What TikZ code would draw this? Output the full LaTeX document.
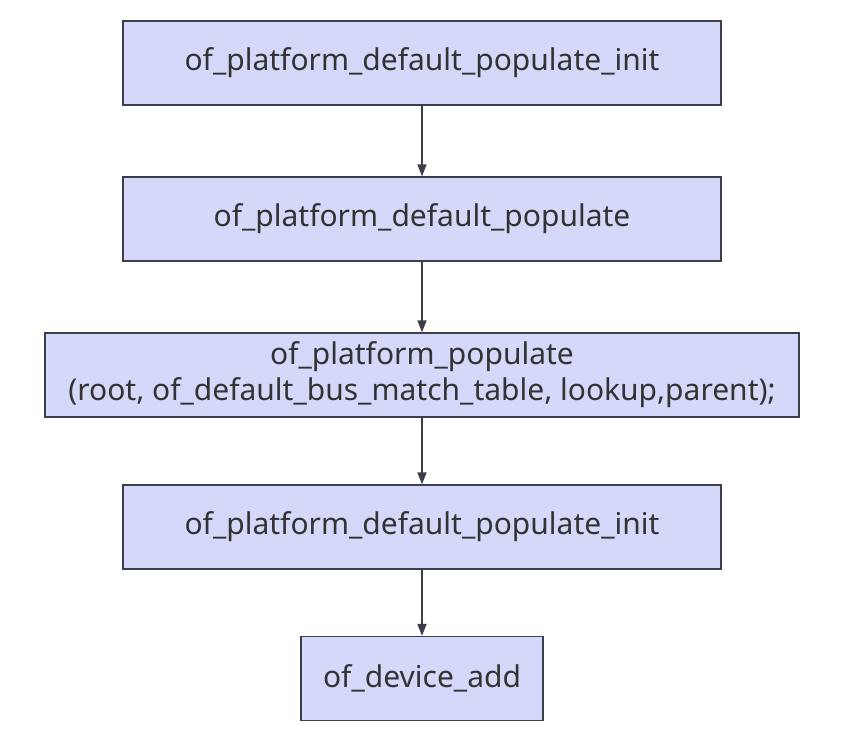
\documentclass[tikz,border=0pt]{standalone}
\usepackage{fontspec}
\setmainfont{Noto Sans}
\usetikzlibrary{arrows.meta}
\definecolor{boxfill}{HTML}{D5D8F8}
\definecolor{boxline}{HTML}{3A3F4A}
\definecolor{txt}{HTML}{333333}
\begin{document}
\begin{tikzpicture}[x=1pt, y=1pt]
				\tikzstyle{every node}=[inner sep=1pt, align=center, text=txt, font=\fontsize{30}{36}\selectfont]
				\tikzstyle{fn}=[draw=boxline, line width=1.3pt, fill=boxfill, minimum height=84pt]
				\tikzstyle{call}=[draw=boxline, line width=1.5pt, -{Triangle[length=12pt, width=9pt]}]
				\useasboundingbox (0, 0) rectangle (846, -734);
				\node[fn, minimum width=598pt] (init) at (422, -63) {of\_platform\_default\_populate\_init};
				\node[fn, minimum width=598pt] (dflt) at (422, -219) {of\_platform\_default\_populate};
				\node[fn, minimum width=754pt] (pop) at (422, -375) {of\_platform\_populate\\(root, of\_default\_bus\_match\_table, lookup,parent);};
				\node[fn, minimum width=598pt] (init2) at (422, -527) {of\_platform\_default\_populate\_init};
				\node[fn, minimum width=242pt] (add) at (422, -678.5) {of\_device\_add};
				\draw [call] (init) -- (dflt);
				\draw [call] (dflt) -- (pop);
				\draw [call] (pop) -- (init2);
				\draw [call] (init2) -- (add);
		\end{tikzpicture}
\end{document}
